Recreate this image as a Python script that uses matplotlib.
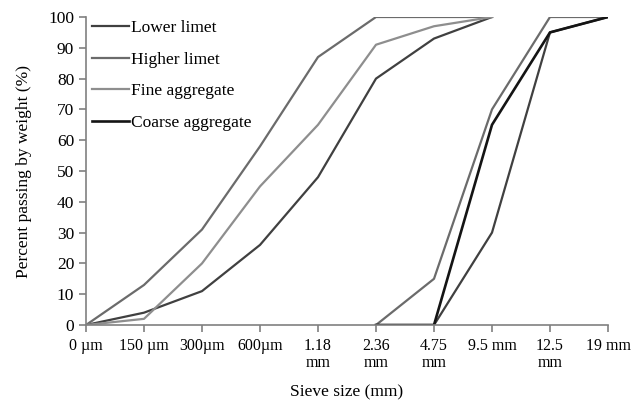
import matplotlib
matplotlib.use("Agg")
import matplotlib.pyplot as plt
import numpy as np

# sieve sizes (categorical axis)
sieve_labels = ["0 µm", "150 µm", "300µm", "600µm", "1.18\nmm", "2.36\nmm",
                "4.75\nmm", "9.5 mm", "12.5\nmm", "19 mm"]

nan = np.nan
# fine aggregate limits / grading
fine_lower = [0, 4, 11, 26, 48, 80, 93, 100, nan, nan]
fine_higher = [0, 13, 31, 58, 87, 100, 100, 100, nan, nan]
fine_agg = [0, 2, 20, 45, 65, 91, 97, 100, nan, nan]
# coarse aggregate limits / grading
coarse_lower = [nan, nan, nan, nan, nan, nan, 0, 30, 95, 100]
coarse_higher = [nan, nan, nan, nan, nan, 0, 15, 70, 100, 100]
coarse_agg = [nan, nan, nan, nan, nan, 0, 0, 65, 95, 100]

plt.rcParams["font.family"] = ["Liberation Serif", "DejaVu Serif"]
plt.rcParams["font.size"] = 11.5

c_low, c_high, c_fine, c_coarse = "#404040", "#6b6b6b", "#8e8e8e", "#141414"

fig = plt.figure(figsize=(6.32, 4.01), dpi=100)
ax = fig.add_axes([86 / 632, 1 - 325 / 401, (608 - 86) / 632, (325 - 17) / 401])

x = np.arange(len(sieve_labels))
ax.plot(x, fine_lower, color=c_low, lw=1.6, label="Lower limet")
ax.plot(x, fine_higher, color=c_high, lw=1.6, label="Higher limet")
ax.plot(x, fine_agg, color=c_fine, lw=1.6, label="Fine aggregate")
ax.plot(x, coarse_lower, color=c_low, lw=1.6)
ax.plot(x, coarse_higher, color=c_high, lw=1.6)
ax.plot(x, coarse_agg, color=c_coarse, lw=1.9, label="Coarse aggregate")

ax.set_xlim(0, len(sieve_labels) - 1)
ax.set_ylim(0, 100)
ax.set_xticks(x)
ax.set_xticklabels(sieve_labels, linespacing=1.1)
ax.set_yticks(np.arange(0, 101, 10))
ax.tick_params(axis="y", labelsize=12.5)

for s in ["top", "right"]:
    ax.spines[s].set_visible(False)
for s in ["left", "bottom"]:
    ax.spines[s].set_color("#808080")
    ax.spines[s].set_linewidth(1.2)
ax.tick_params(axis="both", colors="#808080", labelcolor="black", length=5, width=1.2)
ax.tick_params(axis="x", pad=4)

ax.set_xlabel("Sieve size (mm)", fontsize=12.5, labelpad=10)
ax.set_ylabel("Percent passing by weight (%)", fontsize=12.5, labelpad=12)

ax.legend(loc="upper left", bbox_to_anchor=(-0.018, 1.04), frameon=False,
          fontsize=12.5, handlelength=2.1, handletextpad=0.15, labelspacing=0.88)

fig.savefig("out.png", dpi=100)
